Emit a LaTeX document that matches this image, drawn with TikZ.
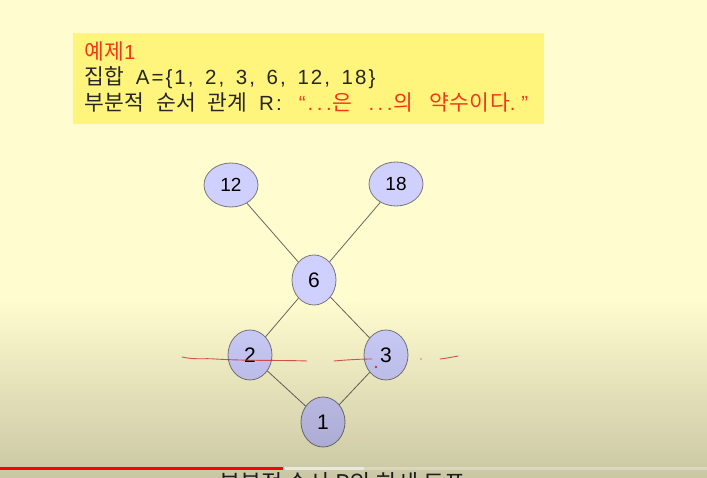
\documentclass[tikz,border=0pt]{standalone}
\usepackage{fontspec}
\setmainfont[LetterSpace=10,WordSpace=1.5]{Liberation Sans}
\newfontfamily\plainsans{Liberation Sans}
\newfontfamily\krfont[LetterSpace=2]{Noto Sans CJK KR}
\newfontfamily\krplain{Noto Sans CJK KR}
\newcommand{\K}[1]{{\krfont\fontsize{21.5}{21.5}\selectfont #1}}
\newcommand{\edots}{.\hspace{3.5pt}.\hspace{3.5pt}.\hspace{1pt}}
\usetikzlibrary{shapes.geometric,fadings}
\definecolor{bgtop}{RGB}{255,252,208}
\definecolor{boxfill}{RGB}{255,245,125}
\definecolor{titlered}{RGB}{242,56,26}
\definecolor{nodefill}{RGB}{208,208,255}
\definecolor{nodeline}{RGB}{120,120,120}
\definecolor{edgecol}{RGB}{105,105,95}
\definecolor{penred}{RGB}{222,60,50}
\tikzfading[name=darkdown, top color=transparent!100, bottom color=transparent!79]
\tikzset{
  hnode/.style={ellipse, draw=nodeline, line width=0.8pt, fill=nodefill, inner sep=0pt,
    minimum width=44pt, minimum height=50pt, font=\plainsans\fontsize{21}{21}\selectfont},
  hnodesmall/.style={hnode, minimum width=54pt, minimum height=44pt, font=\plainsans\fontsize{19}{19}\selectfont},
  hedge/.style={draw=edgecol, line width=0.8pt},
  pen/.style={draw=penred, line width=0.9pt, opacity=0.85, line cap=round},
  titletext/.style={anchor=base west, inner sep=0pt, font=\fontsize{20.5}{20.5}\selectfont}
}
\begin{document}
\begin{tikzpicture}[x=1pt,y=-1pt]
\useasboundingbox (0,0) rectangle (707,478);
\clip (0,0) rectangle (707,478);
\fill[bgtop] (0,0) rectangle (707,478);
% title box
\fill[boxfill] (73,33) rectangle (544,124);
\node[titletext, text=titlered] (t1) at (84,59.5) {\K{예제}1};
\node[titletext, text=black!85] (t2) at (84,85) {\K{집합} A=\{1, 2, 3, 6, 12, 18\}};
\node[titletext, text=black!85] (t3) at (84,110.5) {\K{부분적} \K{순서} \K{관계} R:\hspace{17pt}\textcolor{titlered}{“\edots\K{은}\hspace{16pt}\edots\K{의}\hspace{16pt}\K{약수이다}.\hspace{6pt}”}};
% nodes
\node[hnodesmall] (n12) at (231,185) {12};
\node[hnodesmall] (n18) at (396,184) {18};
\node[hnode] (n6) at (314,280) {6};
\node[hnode] (n2) at (250,355) {2};
\node[hnode] (n3) at (386,355) {3};
\node[hnode] (n1) at (323,422) {1};
\draw[hedge] (n12) -- (n6);
\draw[hedge] (n18) -- (n6);
\draw[hedge] (n6) -- (n2);
\draw[hedge] (n6) -- (n3);
\draw[hedge] (n2) -- (n1);
\draw[hedge] (n3) -- (n1);
% pen strokes
\draw[pen] (182,357) .. controls (195,360) and (205,358) .. (215,359) .. controls (250,361) and (280,360) .. (307,361);
\draw[pen] (334,361) .. controls (345,360) and (360,359) .. (372,359);
\fill[penred] (376,367) circle (1.3);
\fill[penred, opacity=0.6] (421,359) circle (0.8);
\draw[pen] (440,359) .. controls (448,358) and (453,357) .. (458,356);
% bottom caption (cut off by the frame edge, as in the reference)
\node[anchor=base west, inner sep=0pt, text=black!85, font=\krplain\fontsize{23}{23}\selectfont] (cap) at (219,491) {부분적 순서 R의 하세 도표};
% darkening overlay
\fill[black, path fading=darkdown] (0,300) rectangle (707,478);
% progress bar
\fill[white, opacity=0.25] (364,466.5) rectangle (707,469.5);
\fill[white, opacity=0.6] (283,466.5) rectangle (364,469.5);
\fill[red] (0,466.5) rectangle (283,469.5);
\end{tikzpicture}
\end{document}
